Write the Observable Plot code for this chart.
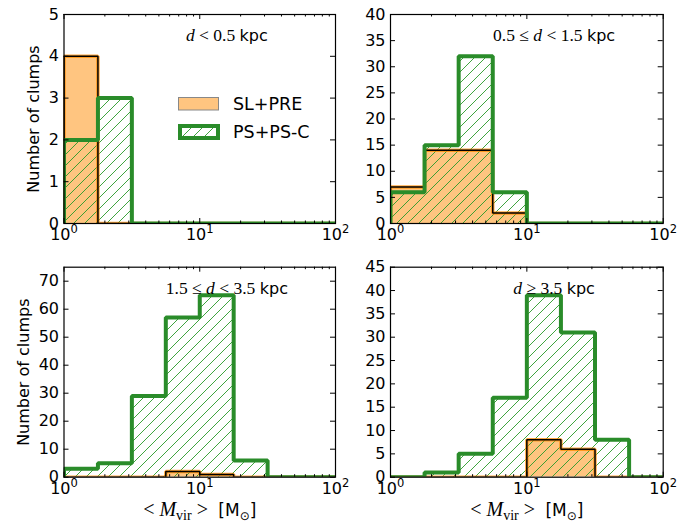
<!DOCTYPE html>
<html><head><meta charset="utf-8">
<script src="https://cdn.jsdelivr.net/npm/d3@7"></script>
<script src="https://cdn.jsdelivr.net/npm/@observablehq/plot@0.6"></script>
<style>
body{margin:0;background:#fff;}
#chart{position:relative;width:693px;height:530px;overflow:hidden;background:#fff;}
#chart svg{position:absolute;}
</style></head><body>
<svg width="0" height="0" style="position:absolute;left:0;top:0">
<defs><pattern id="hatch" patternUnits="userSpaceOnUse" width="11" height="11">
<path d="M0,11 L11,0 M-2,2 L2,-2 M9,13 L13,9" stroke="#2a9a2a" stroke-width="0.9" fill="none"/></pattern></defs></svg>
<div id="chart"></div>
<script>
// ---- data ----
const binEdges = [1, 1.778, 3.162, 5.623, 10, 17.78, 31.62, 56.23, 100];
const slpreNear  = [4, 0, 0, 0, 0, 0, 0, 0];
const pspscNear  = [2, 3, 0, 0, 0, 0, 0, 0];
const slpreMid   = [7, 14, 14, 2, 0, 0, 0, 0];
const pspscMid   = [6, 15, 32, 6, 0, 0, 0, 0];
const slpreOuter = [0, 0, 0, 2, 1, 0, 0, 0];
const pspscOuter = [3, 5, 29, 57, 65, 6, 0, 0];
const slpreFar   = [0, 0, 0, 0, 8, 6, 0, 0];
const pspscFar   = [0, 1, 5, 17, 39, 31, 8, 0];
const panelTitles = ["d < 0.5 kpc", "0.5 ≤ d < 1.5 kpc", "1.5 ≤ d < 3.5 kpc", "d ≥ 3.5 kpc"];
const yDomainMax = [5, 40, 75, 45];
const yTicksNear  = [0, 1, 2, 3, 4, 5];
const yTicksMid   = [0, 5, 10, 15, 20, 25, 30, 35, 40];
const yTicksOuter = [0, 10, 20, 30, 40, 50, 60, 70];
const yTicksFar   = [0, 5, 10, 15, 20, 25, 30, 35, 40, 45];
const xMajor = [1, 10, 100];
const xMinor = [2, 3, 4, 5, 6, 7, 8, 9, 20, 30, 40, 50, 60, 70, 80, 90];
const legendLabels = ["SL+PRE", "PS+PS-C"];
const yLabel = "Number of clumps";
const xLabel = "<Mvir> [M⊙]";

const GREEN = "#2a8c2a", ORANGE_FILL = "#ffc580", ORANGE = "#ff8c00";

function stepPoints(vals) {
  const p = [{x: binEdges[0], y: 0}];
  vals.forEach((v, i) => { p.push({x: binEdges[i], y: v}, {x: binEdges[i + 1], y: v}); });
  p.push({x: binEdges[binEdges.length - 1], y: 0});
  return p;
}

const layout = [
  {left: 0,   top: 0,   width: 345, height: 255, ml: 63.5, mr: 10,  mt: 14,   mb: 32,   ylab: -30},
  {left: 345, top: 0,   width: 348, height: 255, ml: 45,   mr: 30.3, mt: 14,  mb: 32,   ylab: null},
  {left: 0,   top: 255, width: 345, height: 275, ml: 63.5, mr: 10,  mt: 11.7, mb: 53.3, ylab: -40},
  {left: 345, top: 255, width: 348, height: 275, ml: 45,   mr: 30.3, mt: 11.7, mb: 53.3, ylab: null}
];
const slSeries = [slpreNear, slpreMid, slpreOuter, slpreFar];
const psSeries = [pspscNear, pspscMid, pspscOuter, pspscFar];
const yTickSets = [yTicksNear, yTicksMid, yTicksOuter, yTicksFar];

const chart = document.getElementById("chart");
const NS = "http://www.w3.org/2000/svg";

function setRich(textEl, segs) {
  while (textEl.firstChild) textEl.removeChild(textEl.firstChild);
  for (const s of segs) {
    const t = document.createElementNS(NS, "tspan");
    t.textContent = s.t;
    if (s.family) t.setAttribute("font-family", s.family);
    if (s.style) t.setAttribute("font-style", s.style);
    if (s.size) t.setAttribute("font-size", s.size);
    if (s.dy) t.setAttribute("dy", s.dy);
    textEl.appendChild(t);
  }
}
const SERIF = "Liberation Serif", SANS = "DejaVu Sans";
function titleSegs(str) {
  const toks = str.split(" ");
  const segs = [];
  toks.forEach((tk, i) => {
    const sep = i < toks.length - 1 ? " " : "";
    if (tk === "d") segs.push({t: tk + sep, family: SERIF, style: "italic", size: 17.5});
    else if (tk === "kpc") segs.push({t: tk + sep, family: SANS, size: 16});
    else segs.push({t: tk + sep, family: SERIF, size: 17.5});
  });
  return segs;
}

layout.forEach((L, k) => {
  const sl = stepPoints(slSeries[k]);
  const ps = stepPoints(psSeries[k]);
  const ymax = yDomainMax[k];
  const marks = [
    Plot.areaY(sl, {x: "x", y1: 0, y2: "y", fill: ORANGE_FILL, clip: true}),
    Plot.areaY(ps, {x: "x", y1: 0, y2: "y", fill: "url(#hatch)", clip: true}),
    Plot.line(sl, {x: "x", y: "y", stroke: ORANGE, strokeWidth: 3.5, strokeOpacity: 0.75, strokeLinejoin: "miter", clip: true}),
    Plot.line(sl, {x: "x", y: "y", stroke: "black", strokeWidth: 1.5, strokeLinejoin: "miter", clip: true}),
    Plot.line(ps, {x: "x", y: "y", stroke: GREEN, strokeWidth: 4, strokeLinejoin: "miter", clip: true}),
    Plot.frame({stroke: "black", strokeWidth: 1.2}),
    // y ticks (inward, left and right)
    Plot.ruleY(yTickSets[k], {y: d => d, x1: 1, x2: 1, insetRight: -5, stroke: "black", strokeWidth: 1}),
    Plot.ruleY(yTickSets[k], {y: d => d, x1: 100, x2: 100, insetLeft: -5, stroke: "black", strokeWidth: 1}),
    // x ticks major/minor, bottom and top
    Plot.ruleX(xMajor, {x: d => d, y1: 0, y2: 0, insetTop: -5, stroke: "black", strokeWidth: 1}),
    Plot.ruleX(xMajor, {x: d => d, y1: ymax, y2: ymax, insetBottom: -5, stroke: "black", strokeWidth: 1}),
    Plot.ruleX(xMinor, {x: d => d, y1: 0, y2: 0, insetTop: -2.5, stroke: "black", strokeWidth: 1}),
    Plot.ruleX(xMinor, {x: d => d, y1: ymax, y2: ymax, insetBottom: -2.5, stroke: "black", strokeWidth: 1}),
    Plot.axisY(yTickSets[k], {tickSize: 0, tickPadding: 5, fontSize: 16, label: null}),
    Plot.axisX(xMajor, {tickSize: 0, tickPadding: 5, fontSize: 16, label: null, tickFormat: d => "10^" + Math.round(Math.log10(d))}),
    Plot.text([panelTitles[k]], {x: () => Math.pow(10, 1.2), frameAnchor: "top", dy: 15, text: d => d, fontSize: 16, textAnchor: "middle"})
  ];
  if (L.ylab !== null) {
    marks.push(Plot.text([yLabel], {frameAnchor: "left", dx: L.ylab, rotate: -90, text: d => d, fontSize: 16, textAnchor: "middle"}));
  }
  if (k >= 2) {
    marks.push(Plot.text([xLabel], {frameAnchor: "bottom", dy: 39, text: d => d, fontSize: 17, textAnchor: "middle"}));
  }
  const svg = Plot.plot({
    width: L.width, height: L.height,
    marginLeft: L.ml, marginRight: L.mr, marginTop: L.mt, marginBottom: L.mb,
    x: {type: "log", domain: [1, 100], label: null},
    y: {domain: [0, ymax], label: null},
    style: {fontFamily: SANS, fontSize: "16px", color: "black", background: "transparent", overflow: "visible"},
    marks
  });
  svg.style.left = L.left + "px";
  svg.style.top = L.top + "px";
  svg.style.maxWidth = "none";
  chart.appendChild(svg);

  // rich text post-processing
  svg.querySelectorAll("text").forEach(t => {
    const s = t.textContent;
    const m = /^10\^(\d)$/.exec(s);
    if (m) {
      setRich(t, [{t: "10"}, {t: m[1], size: 11.5, dy: -7}]);
    } else if (s === panelTitles[k]) {
      setRich(t, titleSegs(s));
    } else if (s === xLabel) {
      setRich(t, [
        {t: "< ", family: SERIF, size: 20},
        {t: "M", family: SERIF, style: "italic", size: 20},
        {t: "vir", family: SERIF, size: 14, dy: 4},
        {t: " > ", family: SERIF, size: 20, dy: -4},
        {t: " [M", family: SANS, size: 17},
        {t: "⊙", family: SANS, size: 12, dy: 4},
        {t: "]", family: SANS, size: 17, dy: -4}
      ]);
    }
  });
});

// legend (panel 1)
const leg = document.createElementNS(NS, "svg");
leg.setAttribute("width", 693); leg.setAttribute("height", 530);
leg.style.left = "0px"; leg.style.top = "0px";
leg.innerHTML = `
  <rect x="178.5" y="97.5" width="40" height="12.5" fill="${ORANGE_FILL}" stroke="#888" stroke-width="1"/>
  <rect x="180" y="126" width="38" height="12" fill="url(#hatch)" stroke="${GREEN}" stroke-width="4"/>
  <text x="233" y="110" font-family="DejaVu Sans" font-size="17.5" fill="black">${legendLabels[0]}</text>
  <text x="233" y="138" font-family="DejaVu Sans" font-size="17.5" fill="black">${legendLabels[1]}</text>`;
chart.appendChild(leg);
</script>
</body></html>
